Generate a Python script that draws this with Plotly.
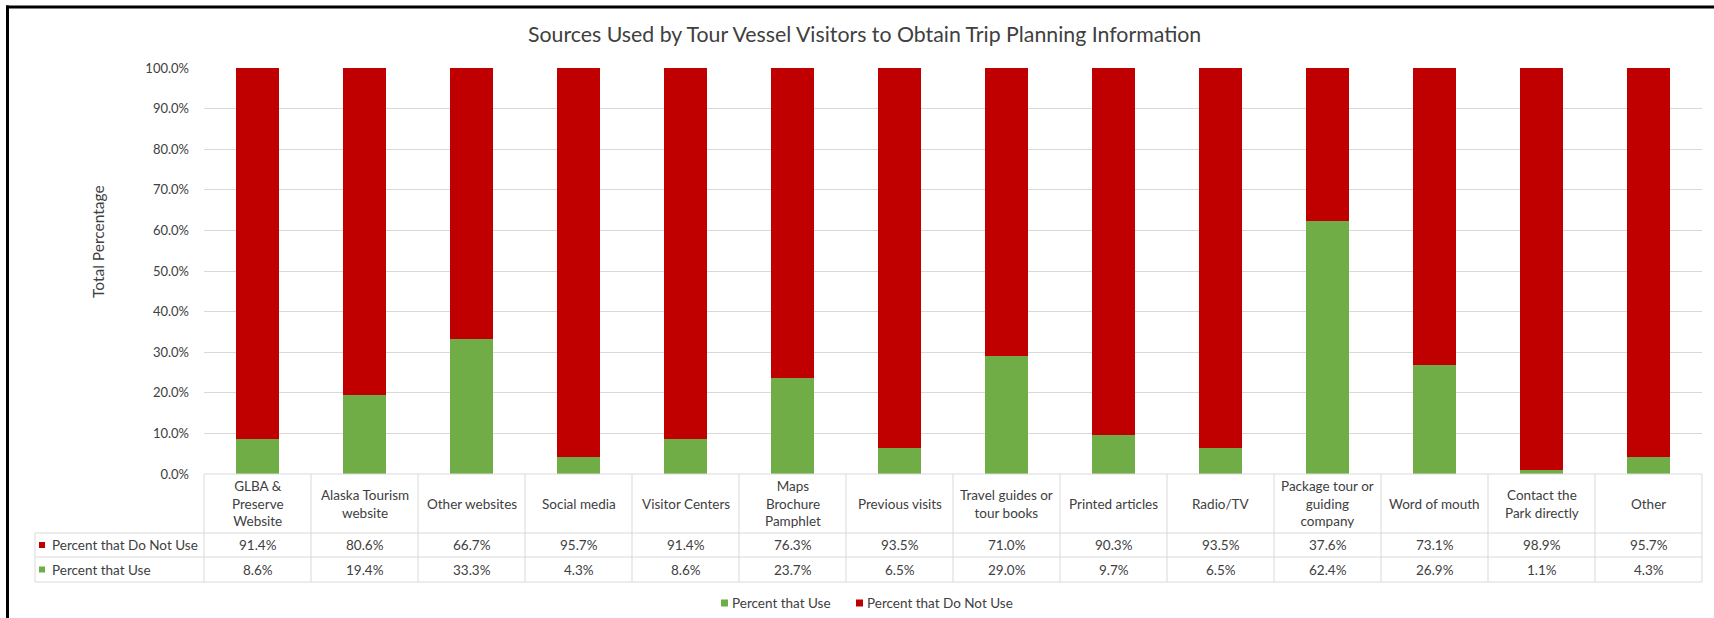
import plotly.graph_objects as go

# Survey results: share of tour vessel visitors using each planning source
categories = [
    "GLBA &<br>Preserve<br>Website",
    "Alaska Tourism<br>website",
    "Other websites",
    "Social media",
    "Visitor Centers",
    "Maps<br>Brochure<br>Pamphlet",
    "Previous visits",
    "Travel guides or<br>tour books",
    "Printed articles",
    "Radio/TV",
    "Package tour or<br>guiding<br>company",
    "Word of mouth",
    "Contact the<br>Park directly",
    "Other",
]
pct_use = [8.6, 19.4, 33.3, 4.3, 8.6, 23.7, 6.5, 29.0, 9.7, 6.5, 62.4, 26.9, 1.1, 4.3]
pct_not_use = [91.4, 80.6, 66.7, 95.7, 91.4, 76.3, 93.5, 71.0, 90.3, 93.5, 37.6, 73.1, 98.9, 95.7]
y_ticks = [0, 10, 20, 30, 40, 50, 60, 70, 80, 90, 100]
series_names = ["Percent that Use", "Percent that Do Not Use"]

W, H = 1714, 618
GREEN = "#70AD47"
RED = "#C00000"
TEXT = "#404040"
GRID = "#D9D9D9"
FONT = "Lato"


def px(x):
    return x / W


def py(y):
    return 1 - y / H


# plot area in pixels
X0, X1 = 204, 1702
Y_TOP, Y_ZERO = 68, 474
# data-table rows
ROW_HEAD_BOTTOM, ROW1_BOTTOM, ROW2_BOTTOM = 533, 557, 582
TABLE_LEFT = 35

n = len(categories)
xs = list(range(n))

fig = go.Figure()
fig.add_trace(go.Bar(
    x=xs, y=pct_use, name=series_names[0],
    marker=dict(color=GREEN, line=dict(width=0)), width=0.4,
))
fig.add_trace(go.Bar(
    x=xs, y=pct_not_use, name=series_names[1],
    marker=dict(color=RED, line=dict(width=0)), width=0.4,
))

shapes = []
annotations = []

# table grid lines
col_w = (X1 - X0) / n
line = dict(color=GRID, width=1)
shapes.append(dict(type="line", xref="paper", yref="paper",
                   x0=px(X0), x1=px(X1), y0=py(Y_ZERO), y1=py(Y_ZERO), line=line))
for yb in (ROW_HEAD_BOTTOM, ROW1_BOTTOM, ROW2_BOTTOM):
    shapes.append(dict(type="line", xref="paper", yref="paper",
                       x0=px(TABLE_LEFT), x1=px(X1), y0=py(yb), y1=py(yb), line=line))
for i in range(n + 1):
    xb = X0 + i * col_w
    shapes.append(dict(type="line", xref="paper", yref="paper",
                       x0=px(xb), x1=px(xb), y0=py(Y_ZERO), y1=py(ROW2_BOTTOM), line=line))
shapes.append(dict(type="line", xref="paper", yref="paper",
                   x0=px(TABLE_LEFT), x1=px(TABLE_LEFT),
                   y0=py(ROW_HEAD_BOTTOM), y1=py(ROW2_BOTTOM), line=line))

# table contents
row1_mid = (ROW_HEAD_BOTTOM + ROW1_BOTTOM) / 2
row2_mid = (ROW1_BOTTOM + ROW2_BOTTOM) / 2
head_mid = (Y_ZERO + ROW_HEAD_BOTTOM) / 2
cell_font = dict(family=FONT, size=13.5, color=TEXT)
for i in range(n):
    annotations.append(dict(x=xs[i], xref="x", y=py(head_mid), yref="paper",
                            text=categories[i], showarrow=False, font=cell_font,
                            align="center", xanchor="center", yanchor="middle"))
    annotations.append(dict(x=xs[i], xref="x", y=py(row1_mid), yref="paper",
                            text=f"{pct_not_use[i]:.1f}%", showarrow=False, font=cell_font,
                            xanchor="center", yanchor="middle"))
    annotations.append(dict(x=xs[i], xref="x", y=py(row2_mid), yref="paper",
                            text=f"{pct_use[i]:.1f}%", showarrow=False, font=cell_font,
                            xanchor="center", yanchor="middle"))

# row keys
for (ymid, color, label) in ((row1_mid, RED, series_names[1]),
                             (row2_mid, GREEN, series_names[0])):
    shapes.append(dict(type="rect", xref="paper", yref="paper",
                       x0=px(39), x1=px(45), y0=py(ymid + 3), y1=py(ymid - 3),
                       fillcolor=color, line=dict(width=0)))
    annotations.append(dict(x=px(50), xref="paper", y=py(ymid), yref="paper",
                            text=label, showarrow=False, font=cell_font,
                            xanchor="left", yanchor="middle"))

# legend below the table
LEG_Y = 603
for (x_key, color, label) in ((721, GREEN, series_names[0]),
                              (856, RED, series_names[1])):
    shapes.append(dict(type="rect", xref="paper", yref="paper",
                       x0=px(x_key), x1=px(x_key + 7), y0=py(LEG_Y + 3.5), y1=py(LEG_Y - 3.5),
                       fillcolor=color, line=dict(width=0)))
    annotations.append(dict(x=px(x_key + 9), xref="paper", y=py(LEG_Y), yref="paper",
                            text=label, showarrow=False, font=cell_font,
                            xanchor="left", yanchor="middle"))

# title and axis title
annotations.append(dict(x=px(864), xref="paper", y=py(34), yref="paper",
                        text="Sources Used by Tour Vessel Visitors to Obtain Trip Planning Information",
                        showarrow=False, font=dict(family=FONT, size=21.3, color=TEXT),
                        xanchor="center", yanchor="middle"))
annotations.append(dict(x=px(98), xref="paper", y=py(242), yref="paper",
                        text="Total Percentage", textangle=-90, showarrow=False,
                        font=dict(family=FONT, size=15.5, color=TEXT),
                        xanchor="center", yanchor="middle"))

# outer frame on the left and top
shapes.append(dict(type="line", xref="paper", yref="paper",
                   x0=px(7.5), x1=px(7.5), y0=py(5.5), y1=0, line=dict(color="black", width=3)))
shapes.append(dict(type="line", xref="paper", yref="paper",
                   x0=px(6), x1=1, y0=py(7), y1=py(7), line=dict(color="black", width=3)))

fig.update_layout(
    width=W, height=H,
    margin=dict(l=0, r=0, t=0, b=0, pad=0, autoexpand=False),
    paper_bgcolor="white", plot_bgcolor="white",
    barmode="stack",
    font=dict(family=FONT, size=13, color=TEXT),
    showlegend=False,
    xaxis=dict(domain=[px(X0), px(X1)], range=[-0.5, n - 0.5], showticklabels=False,
               showgrid=False, zeroline=False, showline=False, ticks=""),
    yaxis=dict(domain=[py(Y_ZERO), py(Y_TOP)], range=[0, 100], tickvals=y_ticks,
               ticktext=[f"{v:.1f}%" for v in y_ticks], showgrid=True, gridcolor=GRID,
               gridwidth=1, zeroline=False, showline=False, ticks="",
               tickfont=dict(family=FONT, size=13, color=TEXT), ticklabelstandoff=14),
    shapes=shapes,
    annotations=annotations,
)

fig.write_html("out.html")
